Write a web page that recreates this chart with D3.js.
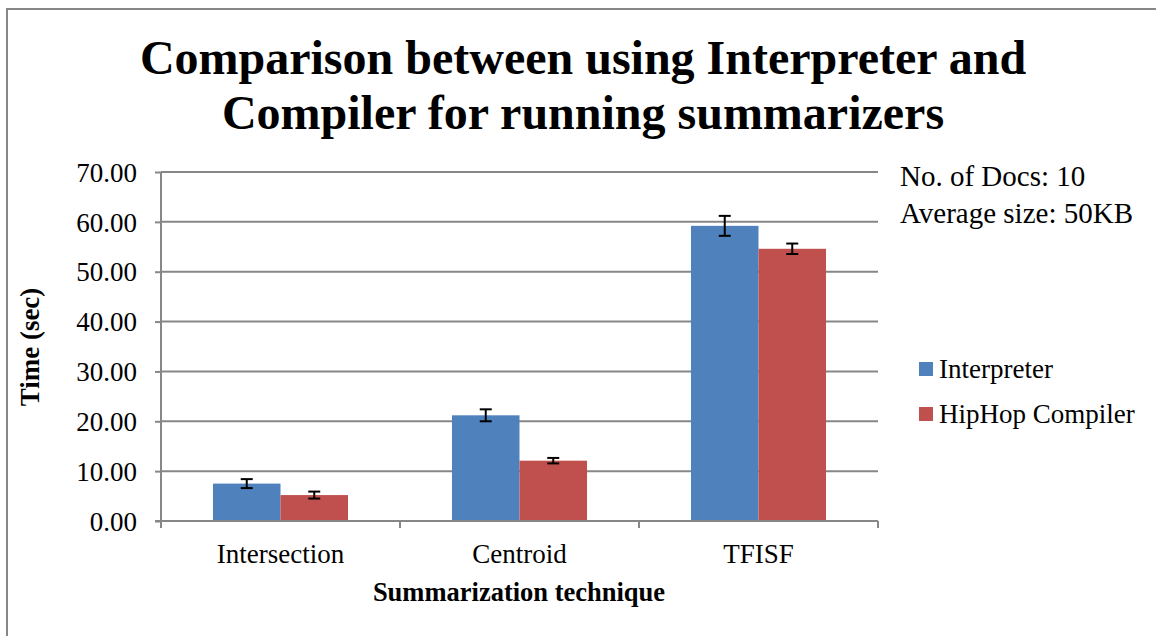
<!DOCTYPE html>
<html><head><meta charset="utf-8">
<script src="https://cdn.jsdelivr.net/npm/d3@7"></script>
<style>body{margin:0;background:#fff}svg{display:block}text{font-family:"Liberation Serif","Times New Roman",serif;fill:#000}</style>
</head><body><svg id="c" width="1156" height="636"></svg>
<script>
const categories = ["Intersection", "Centroid", "TFISF"];
const seriesNames = ["Interpreter", "HipHop Compiler"];
const interpreterValues = [7.5, 21.2, 59.2];
const interpreterErrors = [0.9, 1.2, 2.0];
const compilerValues = [5.2, 12.1, 54.6];
const compilerErrors = [0.7, 0.55, 1.05];
const yTicks = [0, 10, 20, 30, 40, 50, 60, 70];
const colors = ["#4F81BD", "#C0504D"];

(function () {
const svg = d3.select("#c");
const W = 1156, H = 636;
const pL = 161, pR = 878, pT = 172, pB = 521;

// outer border
svg.append("rect").attr("x", 7).attr("y", 9).attr("width", W).attr("height", H)
  .attr("fill", "none").attr("stroke", "#878787").attr("stroke-width", 2);

const y = d3.scaleLinear().domain([0, 70]).range([pB, pT]);
const x0 = d3.scaleBand().domain(categories).range([pL, pR]).paddingInner(0.435).paddingOuter(0.2175);
const x1 = d3.scaleBand().domain(seriesNames).range([0, x0.bandwidth()]);

// gridlines
svg.append("g").selectAll("line").data(yTicks.filter(d => d > 0)).join("line")
  .attr("x1", pL).attr("x2", pR).attr("y1", d => y(d)).attr("y2", d => y(d))
  .attr("stroke", "#878787").attr("stroke-width", 2);

// y axis
const yAxis = d3.axisLeft(y).tickValues(yTicks).tickFormat(d3.format(".2f")).tickSize(6).tickPadding(18);
const ya = svg.append("g").attr("transform", `translate(${pL},0)`).call(yAxis);
ya.select(".domain").attr("stroke", "#878787").attr("stroke-width", 2).attr("d", `M0,${pT}V${pB + 6}`);
ya.selectAll(".tick line").attr("stroke", "#878787").attr("stroke-width", 2);
ya.selectAll(".tick text").attr("font-size", 27).attr("font-family", "Liberation Serif").attr("fill", "#000").attr("dy", "0.34em");

// data
const data = categories.map((c, i) => ({
  cat: c,
  vals: [
    {s: seriesNames[0], v: interpreterValues[i], e: interpreterErrors[i], c: colors[0]},
    {s: seriesNames[1], v: compilerValues[i], e: compilerErrors[i], c: colors[1]}
  ]
}));

const groups = svg.append("g").selectAll("g").data(data).join("g")
  .attr("transform", d => `translate(${x0(d.cat)},0)`);
groups.selectAll("rect").data(d => d.vals).join("rect")
  .attr("x", d => x1(d.s)).attr("width", x1.bandwidth())
  .attr("y", d => y(d.v)).attr("height", d => y(0) - y(d.v))
  .attr("fill", d => d.c);

// error bars
const eb = groups.selectAll("g.err").data(d => d.vals).join("g").attr("class", "err")
  .attr("transform", d => `translate(${x1(d.s) + x1.bandwidth() / 2},0)`);
eb.append("line").attr("y1", d => y(d.v - d.e)).attr("y2", d => y(d.v + d.e))
  .attr("stroke", "#000").attr("stroke-width", 2);
eb.append("line").attr("x1", -6).attr("x2", 6).attr("y1", d => y(d.v + d.e)).attr("y2", d => y(d.v + d.e))
  .attr("stroke", "#000").attr("stroke-width", 2);
eb.append("line").attr("x1", -6).attr("x2", 6).attr("y1", d => y(d.v - d.e)).attr("y2", d => y(d.v - d.e))
  .attr("stroke", "#000").attr("stroke-width", 2);

// x axis
const xTickScale = d3.scaleLinear().domain([0, categories.length]).range([pL, pR]);
const xa = svg.append("g");
xa.append("line").attr("x1", pL - 6).attr("x2", pR).attr("y1", pB).attr("y2", pB)
  .attr("stroke", "#878787").attr("stroke-width", 2);
xa.selectAll("line.t").data(d3.range(categories.length + 1)).join("line").attr("class", "t")
  .attr("x1", d => xTickScale(d)).attr("x2", d => xTickScale(d)).attr("y1", pB).attr("y2", pB + 7)
  .attr("stroke", "#878787").attr("stroke-width", 2);
xa.selectAll("text").data(categories).join("text")
  .attr("x", d => x0(d) + x0.bandwidth() / 2).attr("y", 563)
  .attr("text-anchor", "middle").attr("font-size", 27).text(d => d);

// titles
const title = svg.append("text").attr("text-anchor", "middle").attr("font-size", 48).attr("font-weight", "bold");
title.append("tspan").attr("x", 583).attr("y", 74).text("Comparison between using Interpreter and");
title.append("tspan").attr("x", 583).attr("y", 129).text("Compiler for running summarizers");

svg.append("text").attr("x", 519).attr("y", 601).attr("text-anchor", "middle")
  .attr("font-size", 26.5).attr("font-weight", "bold").text("Summarization technique");
svg.append("text").attr("transform", "translate(39,347) rotate(-90)").attr("text-anchor", "middle")
  .attr("font-size", 27).attr("font-weight", "bold").text("Time (sec)");

// annotation
svg.append("text").attr("x", 900).attr("y", 186).attr("font-size", 29).text("No. of Docs: 10");
svg.append("text").attr("x", 900).attr("y", 223).attr("font-size", 29).text("Average size: 50KB");

// legend
const lg = svg.append("g").selectAll("g").data(seriesNames).join("g")
  .attr("transform", (d, i) => `translate(919,${362 + i * 45})`);
lg.append("rect").attr("width", 14).attr("height", 14).attr("fill", (d, i) => colors[i]);
lg.append("text").attr("x", 20).attr("y", 16).attr("font-size", 27).text(d => d);
})();
</script></body></html>
